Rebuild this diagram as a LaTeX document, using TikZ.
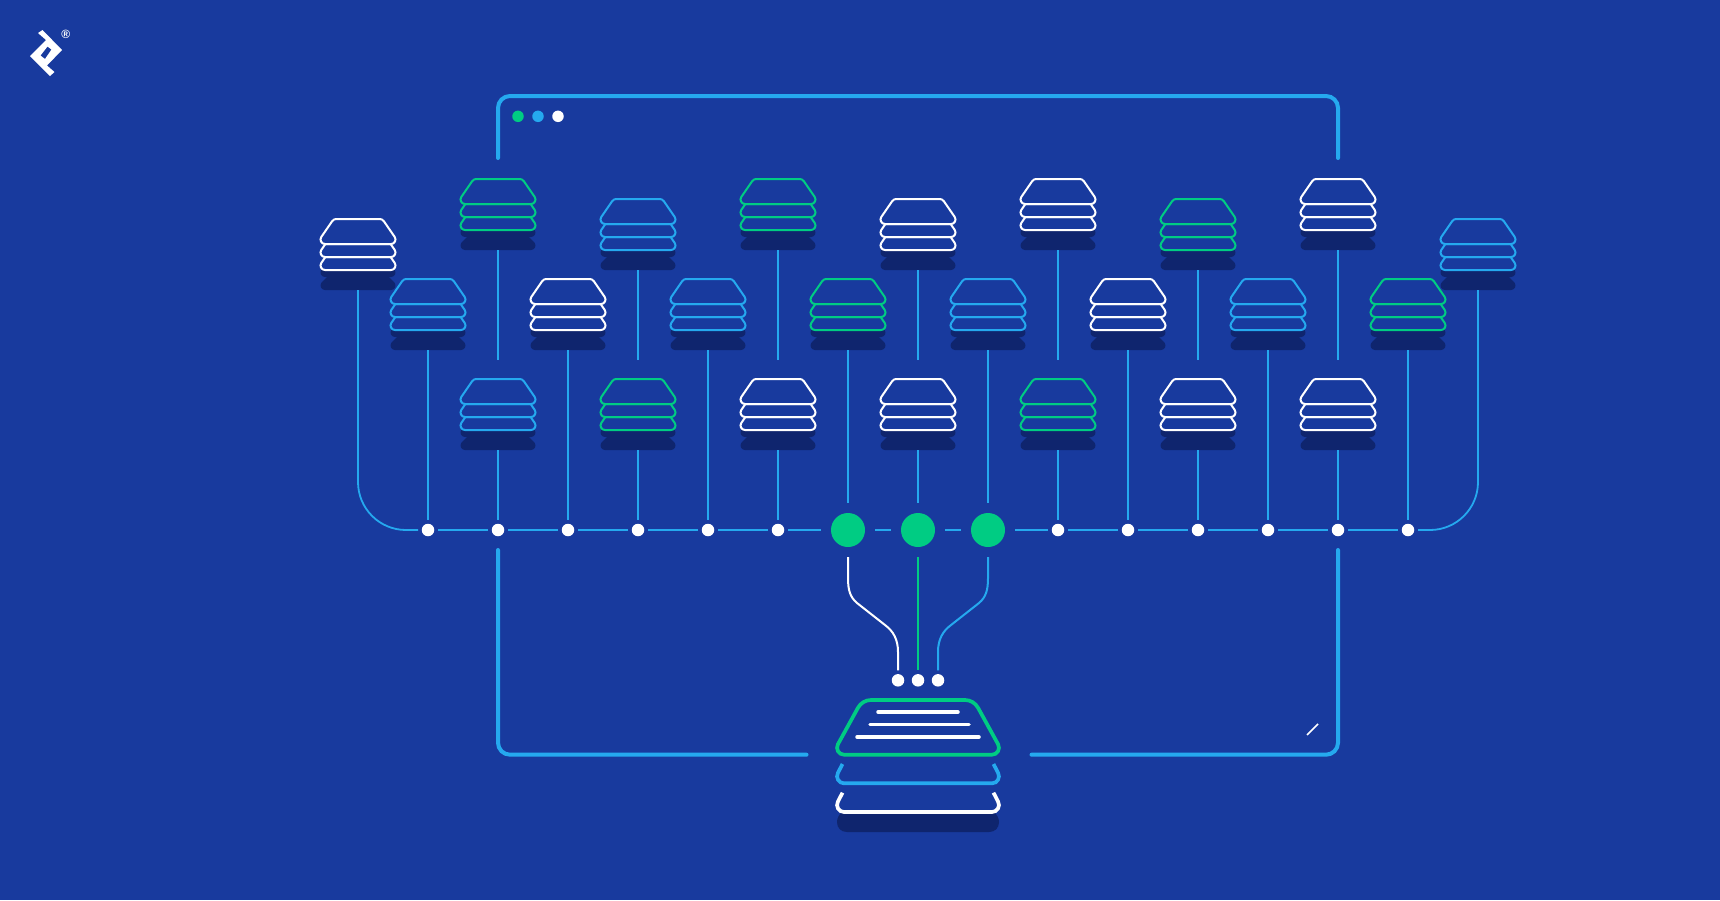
\documentclass[tikz,border=0pt]{standalone}
\usepackage{fontspec}
\setmainfont{Liberation Sans}
\definecolor{bgblue}{HTML}{183A9E}
\definecolor{shadowblue}{HTML}{0F256E}
\definecolor{skyblue}{HTML}{25A9EF}
\definecolor{toptalgreen}{HTML}{00CC83}
\def\lowertier{(-32.6,25) -- (-36.7,30.94) .. controls (-38.75,33.9) and (-36.6,38) .. (-33,38) -- (33,38) .. controls (36.6,38) and (38.75,33.9) .. (36.7,30.94) -- (32.6,25) -- cycle}
\tikzset{
  thinline/.style={skyblue,line width=1.8pt},
  frameline/.style={skyblue,line width=4pt,line cap=round,rounded corners=12pt},
  junction/.style={circle,fill=white,inner sep=0pt,minimum size=12.5pt,outer sep=3.75pt},
  hub/.style={circle,fill=toptalgreen,inner sep=0pt,minimum size=34pt,outer sep=10pt},
  pics/stackpic/.style={code={
    % shadow
    \fill[shadowblue,shift={(0,20)}] \lowertier;
    \fill[shadowblue] (-31,58) -- (-36.7,63.94) .. controls (-38.75,66.9) and (-36.6,71) .. (-33,71) -- (33,71) .. controls (36.6,71) and (38.75,66.9) .. (36.7,63.94) -- (31,58) -- cycle;
    % tiers, bottom first
    \filldraw[draw=#1,fill=bgblue,line width=2pt,shift={(0,13)}] \lowertier;
    \filldraw[draw=#1,fill=bgblue,line width=2pt] \lowertier;
    \filldraw[draw=#1,fill=bgblue,line width=2pt] (-21.7,0) -- (21.7,0) .. controls (23.3,0) and (24.9,.8) .. (25.8,2.14) -- (36.7,17.94) .. controls (38.75,20.9) and (36.6,25) .. (33,25) -- (-33,25) .. controls (-36.6,25) and (-38.75,20.9) .. (-36.7,17.94) -- (-25.8,2.14) .. controls (-24.9,.8) and (-23.3,0) .. (-21.7,0) -- cycle;
    \coordinate (-bot) at (0,71);
  }}
}
\begin{document}
\begin{tikzpicture}[x=1pt,y=-1pt]
\path[use as bounding box,fill=bgblue] (0,0) rectangle (1720,900);

% logo
\fill[white,even odd rule] (38,33) -- (42.5,30) -- (62,50) -- (47,65.5) -- (54.5,72) -- (50,76) -- (30,56) -- (46,40) -- cycle
  (47.5,46.5) -- (51.5,49.5) -- (45,59) -- (40.5,55.5) -- cycle;
\node[text=white,font=\fontsize{12}{12}\selectfont\bfseries,inner sep=0pt] (reg) at (65.7,34) {®};

% frame
\coordinate (fTL) at (498,158);
\coordinate (fTR) at (1338,158);
\coordinate (fBL) at (498,550);
\coordinate (fBLe) at (806.5,754.7);
\coordinate (fBR) at (1338,550);
\coordinate (fBRe) at (1031.5,754.7);
\draw[frameline] (fTL) |- (918,96) -| (fTR);
\draw[frameline] (fBL) |- (fBLe);
\draw[frameline] (fBR) |- (fBRe);
\node[circle,fill=toptalgreen,inner sep=0pt,minimum size=11.5pt] (w1) at (518,116.3) {};
\node[circle,fill=skyblue,inner sep=0pt,minimum size=11.5pt] (w2) at (538,116.3) {};
\node[circle,fill=white,inner sep=0pt,minimum size=11.5pt] (w3) at (558,116.3) {};
\coordinate (sa) at (1307,735);
\coordinate (sb) at (1318,724);
\draw[white,line width=1.7pt] (sa) -- (sb);

% junctions on the bus
\foreach \i/\x in {1/428,2/498,3/568,4/638,5/708,6/778,10/1058,11/1128,12/1198,13/1268,14/1338,15/1408}
  \node[junction] (j\i) at (\x,530) {};
\foreach \i/\x in {7/848,8/918,9/988}
  \node[hub] (j\i) at (\x,530) {};

% end stacks
\pic (s0) at (358,219) {stackpic=white};
\pic (s16) at (1478,219) {stackpic=skyblue};

% middle row, running straight to the bus
\foreach \i/\x/\c in {1/428/skyblue,3/568/white,5/708/skyblue,7/848/toptalgreen,9/988/skyblue,11/1128/white,13/1268/skyblue,15/1408/toptalgreen}{
  \pic (m\i) at (\x,279) {stackpic=\c};
  \draw[thinline] (m\i-bot) -- (j\i);
}

% top row, with free lower ends
\foreach \i/\x/\y/\c in {2/498/179/toptalgreen,4/638/199/skyblue,6/778/179/toptalgreen,8/918/199/white,10/1058/179/white,12/1198/199/toptalgreen,14/1338/179/white}{
  \pic (t\i) at (\x,\y) {stackpic=\c};
  \coordinate (e\i) at (\x,360);
  \draw[thinline] (t\i-bot) -- (e\i);
}

% lower row
\foreach \i/\x/\c in {2/498/skyblue,4/638/toptalgreen,6/778/white,8/918/white,10/1058/toptalgreen,12/1198/white,14/1338/white}{
  \pic (l\i) at (\x,379) {stackpic=\c};
  \draw[thinline] (l\i-bot) -- (j\i);
}

% bus
\foreach \a/\b in {1/2,2/3,3/4,4/5,5/6,6/7,7/8,8/9,9/10,10/11,11/12,12/13,13/14,14/15}
  \draw[thinline] (j\a) -- (j\b);
\draw[thinline,rounded corners=48pt] (s0-bot) |- (j1);
\draw[thinline,rounded corners=48pt] (s16-bot) |- (j15);

% three ports
\node[junction] (p1) at (898,680.3) {};
\node[junction] (p2) at (918,680.3) {};
\node[junction] (p3) at (938,680.3) {};
\draw[white,line width=2pt] (j7.south) -- (848,578) .. controls (848,590) and (850,597) .. (857,603) -- (885,625) .. controls (893,631) and (898,639) .. (898,652) -- (p1.north);
\draw[toptalgreen,line width=2pt] (j8.south) -- (p2.north);
\draw[skyblue,line width=2pt] (j9.south) -- (988,578) .. controls (988,590) and (986,597) .. (979,603) -- (951,625) .. controls (943,631) and (938,639) .. (938,652) -- (p3.north);

% big stack
\begin{scope}[shift={(918,0)}]
\fill[shadowblue] (-76,812) -- (76,812) .. controls (79,815) and (81,818) .. (81,822) .. controls (81,828) and (77,832) .. (71,832) -- (-71,832) .. controls (-77,832) and (-81,828) .. (-81,822) .. controls (-81,818) and (-79,815) .. (-76,812) -- cycle;
\draw[toptalgreen,line width=3.7pt] (-47,700) -- (47,700) .. controls (52.4,700) and (57.4,703) .. (60,707.7) -- (80.1,744.3) .. controls (82.6,749) and (79.3,754.7) .. (74,754.7) -- (-74,754.7) .. controls (-79.3,754.7) and (-82.6,749) .. (-80.1,744.3) -- (-60,707.7) .. controls (-57.4,703) and (-52.4,700) .. (-47,700) -- cycle;
\draw[skyblue,line width=3.7pt] (-75.5,764) -- (-80.1,772.9) .. controls (-82.6,777.6) and (-79.3,783.3) .. (-74,783.3) -- (74,783.3) .. controls (79.3,783.3) and (82.6,777.6) .. (80.1,772.9) -- (75.5,764);
\draw[white,line width=3.7pt] (-75.5,792.7) -- (-80.1,801.6) .. controls (-82.6,806.3) and (-79.3,812) .. (-74,812) -- (74,812) .. controls (79.3,812) and (82.6,806.3) .. (80.1,801.6) -- (75.5,792.7);
\draw[white,line width=3.5pt,line cap=round] (-40,712) -- (40,712);
\draw[white,line width=3.5pt,line cap=round] (-48,724.3) -- (51,724.3);
\draw[white,line width=3.5pt,line cap=round] (-61,737) -- (61,737);
\end{scope}
\end{tikzpicture}
\end{document}
